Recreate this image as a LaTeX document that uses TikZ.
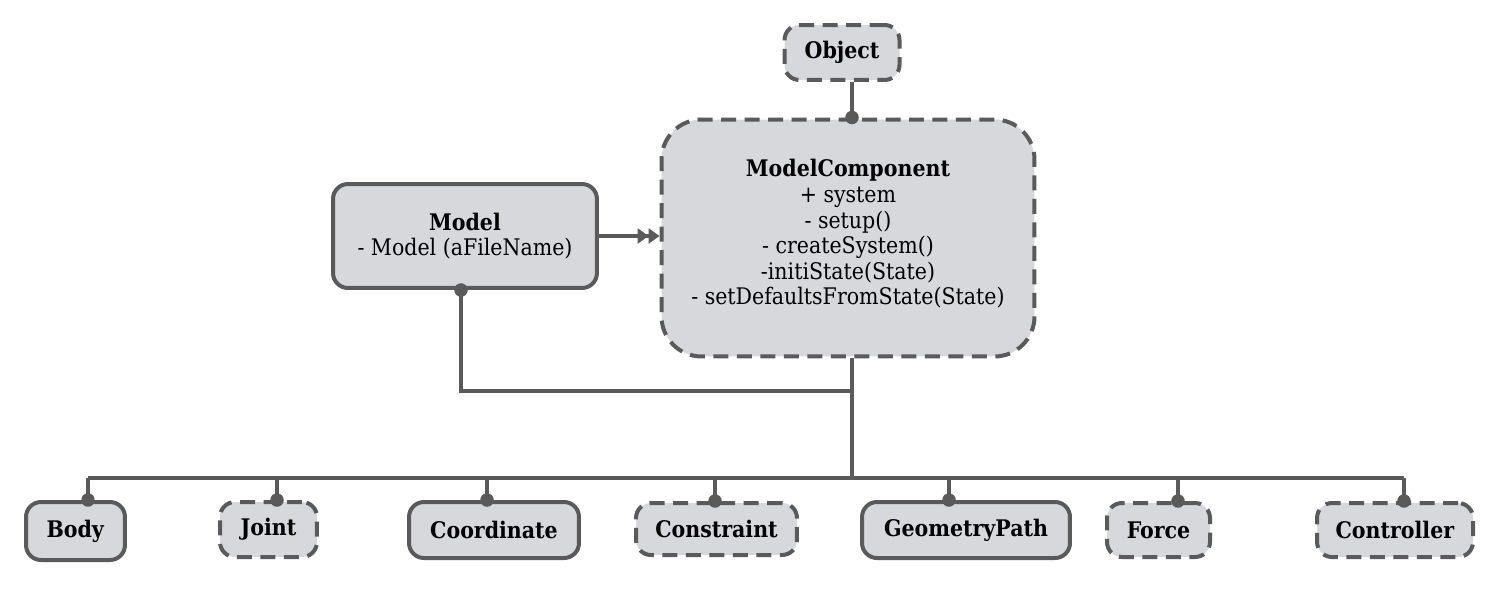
\documentclass[tikz,border=0pt]{standalone}
\usepackage{fontspec}
\setmainfont{DejaVu Serif Condensed}
\usetikzlibrary{arrows.meta}

\definecolor{linegray}{RGB}{90,90,90}
\definecolor{boxgray}{RGB}{214,216,219}

\tikzset{
    cls/.style={draw=linegray, fill=boxgray, line width=0.08cm, rounded corners=0.3cm,
        align=center, inner sep=0pt, font=\fontsize{13}{14.6}\selectfont},
    abscls/.style={cls, dash pattern=on 0.3cm off 0.17cm},
    link/.style={draw=linegray, line width=0.08cm},
    dot/.style={circle, fill=linegray, inner sep=0pt, minimum size=0.27cm},
}

\begin{document}
\begin{tikzpicture}[x=0.02cm, y=-0.02cm]
                \useasboundingbox (0,0) rectangle (1500,592);

                % top of the hierarchy
                \node[abscls, minimum width=2.3cm, minimum height=1.1cm] (obj) at (842,52.5) {\textbf{Object}};
                \node[abscls, rounded corners=0.8cm, minimum width=7.46cm, minimum height=4.74cm] (mc) at (848,238)
                    {\textbf{ModelComponent}\\+ system\\- setup()\\- createSystem()\\-initiState(State)\\- setDefaultsFromState(State)\\[-0.28cm]};
                \node[cls, minimum width=5.28cm, minimum height=2.08cm] (model) at (465,236) {\textbf{Model}\\- Model (aFileName)};

                % subclasses
                \node[cls, minimum width=1.98cm, minimum height=1.16cm] (body) at (75.5,531) {\textbf{Body}};
                \node[abscls, minimum width=1.94cm, minimum height=1.1cm] (joint) at (268.5,529.5) {\textbf{Joint}};
                \node[cls, minimum width=3.4cm, minimum height=1.12cm] (coord) at (494,530) {\textbf{Coordinate}};
                \node[abscls, minimum width=3.22cm, minimum height=1.04cm] (constr) at (716.5,529) {\textbf{Constraint}};
                \node[cls, minimum width=4.16cm, minimum height=1.12cm] (geom) at (966,530) {\textbf{GeometryPath}};
                \node[abscls, minimum width=2.06cm, minimum height=1.08cm] (force) at (1158.5,530) {\textbf{Force}};
                \node[abscls, minimum width=3.12cm, minimum height=1.08cm] (ctrl) at (1395,530) {\textbf{Controller}};

                % connectors
                \coordinate (stem) at (852,300);
                \draw[link] (obj.south -| stem) -- (mc.north -| stem) node[dot] {};
                \draw[link, -{Triangle[length=0.22cm,width=0.3cm]Triangle[length=0.22cm,width=0.3cm]}] (model.east) -- (model.east -| mc.west);

                \coordinate (mj) at (461,391);
                \coordinate (mcj) at (852,391);
                \coordinate (busc) at (852,478);
                \draw[link] (model.south -| mj) node[dot] {} -- (mj) -- (mcj);
                \draw[link] (mc.south -| mcj) -- (busc);

                \coordinate (busl) at (88,478);
                \coordinate (busr) at (1404,478);
                \draw[link] (busl) -- (busr);
                \foreach \n/\x in {body/88, joint/277, coord/487, constr/715, geom/949, force/1178, ctrl/1404} {
                    \coordinate (t\n) at (\x,478);
                    \draw[link] (t\n) -- (t\n |- \n.north) node[dot] {};
                }
\end{tikzpicture}
\end{document}
